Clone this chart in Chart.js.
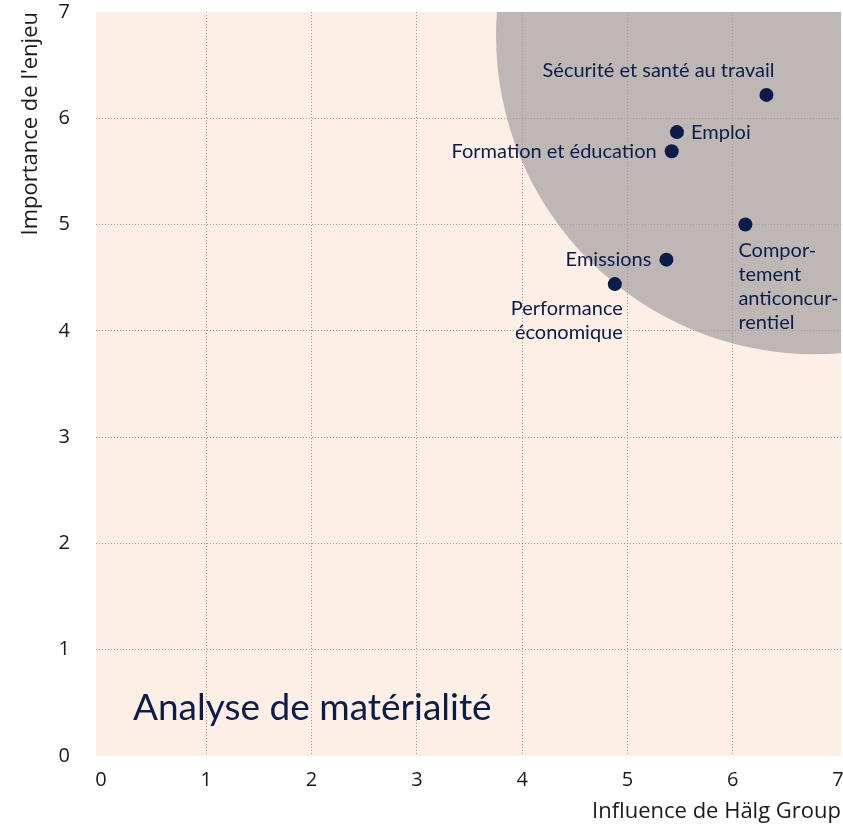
<!DOCTYPE html>
<html>
<head>
<meta charset="utf-8">
<script src="https://cdn.jsdelivr.net/npm/chart.js@4.4.1/dist/chart.umd.min.js"></script>
<style>
  html, body { margin: 0; padding: 0; background: #fff; }
  #wrap { width: 843px; height: 825px; }
</style>
</head>
<body>
<div id="wrap"><canvas id="chart"></canvas></div>
<script>
const topics = [
  ['Sécurité et santé au travail'],
  ['Emploi'],
  ['Formation et éducation'],
  ['Compor-', 'tement', 'anticoncur-', 'rentiel'],
  ['Emissions'],
  ['Performance', 'économique']
];
const influence  = [6.32, 5.47, 5.42, 6.12, 5.37, 4.88];
const importance = [6.22, 5.87, 5.69, 5.00, 4.67, 4.44];
const axisTicks = [0, 1, 2, 3, 4, 5, 6, 7];
const zoneCenter = [6.78, 6.78];
const zoneRadius = 3.0;

const navy = '#0b1c48';
const peach = '#fdefe5';
const zoneGray = '#bfb7b6';
const gridGray = '#a59d9b';

// where each label sits relative to its point (pixels)
const labelPlace = [
  { align: 'right', dx: 8,   dy: -24 },
  { align: 'left',  dx: 14,  dy: 0 },
  { align: 'right', dx: -15, dy: 0 },
  { align: 'left',  dx: -7,  dy: 26 },
  { align: 'right', dx: -15, dy: 0 },
  { align: 'right', dx: 8,   dy: 24 }
];

const backdrop = {
  id: 'backdrop',
  beforeDraw(chart) {
    const { ctx, chartArea: a, scales: { x, y } } = chart;
    ctx.save();
    ctx.fillStyle = peach;
    ctx.fillRect(a.left, a.top, a.right - a.left, a.bottom - a.top);
    ctx.beginPath();
    ctx.rect(a.left, a.top, a.right - a.left, a.bottom - a.top);
    ctx.clip();
    const cx = x.getPixelForValue(zoneCenter[0]);
    const cy = y.getPixelForValue(zoneCenter[1]);
    const r = y.getPixelForValue(0) - y.getPixelForValue(zoneRadius);
    ctx.fillStyle = zoneGray;
    ctx.beginPath();
    ctx.arc(cx, cy, r, 0, Math.PI * 2);
    ctx.fill();
    ctx.restore();
  }
};

const labels = {
  id: 'labels',
  afterDatasetsDraw(chart) {
    const { ctx, chartArea: a } = chart;
    const pts = chart.getDatasetMeta(0).data;
    ctx.save();
    ctx.fillStyle = navy;
    ctx.textBaseline = 'middle';
    ctx.font = '20px Lato';
    pts.forEach((p, i) => {
      const pl = labelPlace[i];
      ctx.textAlign = pl.align;
      topics[i].forEach((line, j) => {
        ctx.fillText(line, p.x + pl.dx, p.y + pl.dy + j * 24);
      });
    });
    ctx.font = '37px Lato';
    ctx.textAlign = 'left';
    ctx.fillText('Analyse de matérialité', a.left + 37, 708);
    ctx.restore();
  }
};

const gridColor = (c) => (c.tick && (c.tick.value === 0 || c.tick.value === 7)) ? 'rgba(0,0,0,0)' : gridGray;
const noPad = (s) => { s.paddingTop = 0; s.paddingBottom = 0; s.paddingLeft = 0; s.paddingRight = 0; };

new Chart(document.getElementById('chart'), {
  type: 'scatter',
  data: {
    datasets: [{
      data: influence.map((v, i) => ({ x: v, y: importance[i] })),
      backgroundColor: navy,
      borderWidth: 0,
      pointRadius: 7,
      pointHoverRadius: 7
    }]
  },
  options: {
    responsive: true,
    maintainAspectRatio: false,
    animation: false,
    layout: { autoPadding: false, padding: { top: 12, right: 2, left: 0, bottom: 0 } },
    plugins: { legend: { display: false }, tooltip: { enabled: false } },
    scales: {
      x: {
        type: 'linear',
        min: -0.0475,
        max: 7.028,
        afterBuildTicks: (s) => { s.ticks = axisTicks.map(v => ({ value: v })); },
        afterFit: (s) => { s.height = 69; noPad(s); },
        grid: { color: gridColor, lineWidth: 1, drawTicks: false },
        border: { display: false, dash: [1, 2] },
        ticks: { padding: 12, color: '#1a1a1a', font: { family: 'Open Sans', size: 20 } },
        title: {
          display: true, text: 'Influence de Hälg Group', align: 'end',
          color: '#1a1a1a', font: { family: 'Open Sans', size: 22 },
          padding: { top: 0, bottom: 0 }
        }
      },
      y: {
        type: 'linear',
        min: 0,
        max: 7,
        afterBuildTicks: (s) => { s.ticks = axisTicks.map(v => ({ value: v })); },
        afterFit: (s) => { s.width = 96; noPad(s); },
        grid: { color: gridColor, lineWidth: 1, drawTicks: false },
        border: { display: false, dash: [1, 2] },
        ticks: { padding: 26, color: '#1a1a1a', font: { family: 'Open Sans', size: 20 } },
        title: {
          display: true, text: "Importance de l'enjeu", align: 'end',
          color: '#1a1a1a', font: { family: 'Open Sans', size: 22 },
          padding: { top: 18, bottom: 0 }
        }
      }
    }
  },
  plugins: [backdrop, labels]
});
</script>
</body>
</html>
